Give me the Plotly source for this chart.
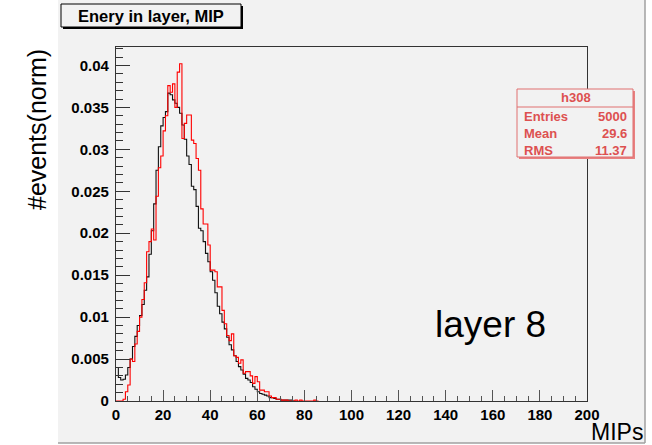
import plotly.graph_objects as go

# ---- data (bin width = 1 MIP, bins start at 0) ----
bin_width = 1.0
black_vals = [
    0.0040, 0.0028, 0.0025, 0.0026, 0.0031, 0.0040, 0.0050, 0.0065, 0.0077, 0.0090,
    0.0102, 0.0115, 0.0132, 0.0148, 0.0175, 0.0203, 0.0235, 0.0275, 0.0303, 0.0328,
    0.0338, 0.0345, 0.0367, 0.0365, 0.0359, 0.0355, 0.0350, 0.0343, 0.0329, 0.0312,
    0.0292, 0.0282, 0.0256, 0.0252, 0.0232, 0.0206, 0.0203, 0.0190, 0.0176, 0.0166,
    0.0154, 0.0144, 0.0129, 0.0113, 0.0104, 0.0094, 0.0086, 0.0076, 0.0067, 0.0061,
    0.0054, 0.0047, 0.0041, 0.0037, 0.0032, 0.0027, 0.0025, 0.0022, 0.0017, 0.0014,
    0.0011, 0.0009, 0.0008, 0.0007, 0.0006, 0.0004, 0.0004, 0.0003, 0.0002, 0.0002,
    0.0001, 0.0001, 0.0001, 0.0001, 0.0001, 0.0,
]
red_vals = [
    0.0, 0.0, 0.0, 0.0002, 0.0011, 0.0019, 0.0050, 0.0047, 0.0068, 0.0083,
    0.0100, 0.0121, 0.0141, 0.0178, 0.0190, 0.0205, 0.0192, 0.0244, 0.0278, 0.0292,
    0.0322, 0.0340, 0.0376, 0.0368, 0.0378, 0.0350, 0.0392, 0.0402, 0.0313, 0.0331,
    0.0341, 0.0341, 0.0311, 0.0307, 0.0289, 0.0275, 0.0229, 0.0211, 0.0211, 0.0186,
    0.0156, 0.0156, 0.0154, 0.0136, 0.0136, 0.0108, 0.0092, 0.0078, 0.0072, 0.0080,
    0.0054, 0.0052, 0.0045, 0.0049, 0.0033, 0.0035, 0.0035, 0.0030, 0.0021, 0.0029,
    0.0023, 0.0013, 0.0013, 0.0011, 0.0011, 0.0006, 0.0004, 0.0004, 0.0002, 0.0002,
    0.0001, 0.0001, 0.0001, 0.0, 0.0, 0.0, 0.0001, 0.0, 0.0001, 0.0,
    0.0, 0.0, 0.0, 0.0, 0.0001, 0.0,
]
x_ticks = [0, 20, 40, 60, 80, 100, 120, 140, 160, 180, 200]
y_ticks = [0, 0.005, 0.01, 0.015, 0.02, 0.025, 0.03, 0.035, 0.04]
y_tick_text = ["0", "0.005", "0.01", "0.015", "0.02", "0.025", "0.03", "0.035", "0.04"]

stats_name = "h308"
stats_rows = [("Entries", "5000"), ("Mean", "29.6"), ("RMS", "11.37")]
title_text = "Enery in layer, MIP"
x_title = "MIPs"
y_title = "#events(norm)"
label_text = "layer 8"


def step_xy(vals):
    xs = [i * bin_width for i in range(len(vals) + 1)]
    ys = list(vals) + [vals[-1]]
    return xs, ys


W, H = 652, 445
ML, MR, MT, MB = 116, 65, 47, 44
PW, PH = W - ML - MR, H - MT - MB


def px(x):
    return (x - ML) / PW


def py(y):
    return (H - MB - y) / PH


FONT = "Liberation Sans, Arial, Helvetica, sans-serif"
BG = "#f2f2f2"
STAT_RED = "#dd5050"

fig = go.Figure()
bx, by = step_xy(black_vals)
fig.add_trace(go.Scatter(x=bx, y=by, mode="lines", line=dict(color="#111111", width=1.1, shape="hv"),
                         showlegend=False, hoverinfo="skip"))
rx, ry = step_xy(red_vals)
fig.add_trace(go.Scatter(x=rx, y=ry, mode="lines", line=dict(color="#ff0000", width=1.1, shape="hv"),
                         showlegend=False, hoverinfo="skip"))

shapes = []
# pad background
shapes.append(dict(type="rect", xref="paper", yref="paper", x0=px(58), x1=px(645), y0=py(443), y1=py(-2),
                   fillcolor=BG, line=dict(width=0), layer="below"))
shapes.append(dict(type="line", xref="paper", yref="paper", x0=px(645), x1=px(645), y0=py(443), y1=py(-2),
                   line=dict(color="#a0a0a0", width=1.5), layer="above"))
shapes.append(dict(type="line", xref="paper", yref="paper", x0=px(58), x1=px(645), y0=py(443), y1=py(443),
                   line=dict(color="#a0a0a0", width=1.5), layer="above"))
# title box with shadow
shapes.append(dict(type="rect", xref="paper", yref="paper", x0=px(63), x1=px(243), y0=py(29), y1=py(6),
                   fillcolor="black", line=dict(width=0), layer="above"))
shapes.append(dict(type="rect", xref="paper", yref="paper", x0=px(61), x1=px(241), y0=py(27), y1=py(4),
                   fillcolor=BG, line=dict(color="black", width=1), layer="above"))
# stats box with shadow
shapes.append(dict(type="rect", xref="paper", yref="paper", x0=px(519), x1=px(635), y0=py(159), y1=py(91),
                   fillcolor="#e88080", line=dict(width=0), layer="above"))
shapes.append(dict(type="rect", xref="paper", yref="paper", x0=px(517), x1=px(633), y0=py(157), y1=py(89),
                   fillcolor=BG, line=dict(color="#e07070", width=1), layer="above"))
shapes.append(dict(type="line", xref="paper", yref="paper", x0=px(517), x1=px(633), y0=py(107), y1=py(107),
                   line=dict(color="#e07070", width=1), layer="above"))

annotations = []
annotations.append(dict(text="<b>%s</b>" % title_text, xref="paper", yref="paper", x=px(151), y=py(16),
                        xanchor="center", yanchor="middle", showarrow=False,
                        font=dict(family=FONT, size=16.5, color="black")))
annotations.append(dict(text="<b>%s</b>" % stats_name, xref="paper", yref="paper", x=px(576), y=py(98),
                        xanchor="center", yanchor="middle", showarrow=False,
                        font=dict(family=FONT, size=13, color=STAT_RED)))
row_y = [116, 133, 150]
for (name, val), yy in zip(stats_rows, row_y):
    annotations.append(dict(text="<b>%s</b>" % name, xref="paper", yref="paper", x=px(522), y=py(yy),
                            xanchor="left", yanchor="middle", showarrow=False,
                            font=dict(family=FONT, size=13, color=STAT_RED)))
    annotations.append(dict(text="<b>%s</b>" % val, xref="paper", yref="paper", x=px(629), y=py(yy),
                            xanchor="right", yanchor="middle", showarrow=False,
                            font=dict(family=FONT, size=13, color=STAT_RED)))
annotations.append(dict(text=y_title, xref="paper", yref="paper", x=px(37), y=py(130), textangle=-90,
                        xanchor="center", yanchor="middle", showarrow=False,
                        font=dict(family=FONT, size=25, color="black")))
annotations.append(dict(text=x_title, xref="paper", yref="paper", x=px(645), y=py(447),
                        xanchor="right", yanchor="bottom", showarrow=False,
                        font=dict(family=FONT, size=23, color="black")))
annotations.append(dict(text=label_text, xref="paper", yref="paper", x=px(490), y=py(324),
                        xanchor="center", yanchor="middle", showarrow=False,
                        font=dict(family=FONT, size=37, color="black")))

fig.update_layout(
    width=W, height=H,
    margin=dict(l=ML, r=MR, t=MT, b=MB, pad=0),
    paper_bgcolor="white", plot_bgcolor=BG,
    shapes=shapes, annotations=annotations,
    xaxis=dict(range=[0, 200], tickvals=x_ticks, ticks="inside", ticklen=11, tickwidth=1.2,
               tickcolor="#555", showgrid=False, zeroline=False, showline=True, mirror=True,
               linecolor="#333", linewidth=1.3,
               minor=dict(dtick=5, ticks="inside", ticklen=5, tickcolor="#555", showgrid=False),
               tickfont=dict(family=FONT, size=15, color="black", weight="bold"), ticklabelstandoff=0),
    yaxis=dict(range=[0, 0.0422], tickvals=y_ticks, ticktext=y_tick_text, ticks="inside", ticklen=14,
               tickwidth=1.2, tickcolor="#333", showgrid=False, zeroline=False, showline=True, mirror=True,
               linecolor="#333", linewidth=1.3,
               minor=dict(dtick=0.001, tick0=0, ticks="inside", ticklen=7, tickcolor="#333", showgrid=False),
               tickfont=dict(family=FONT, size=15, color="black", weight="bold"), ticklabelstandoff=3),
)

fig.write_html("out.html")
